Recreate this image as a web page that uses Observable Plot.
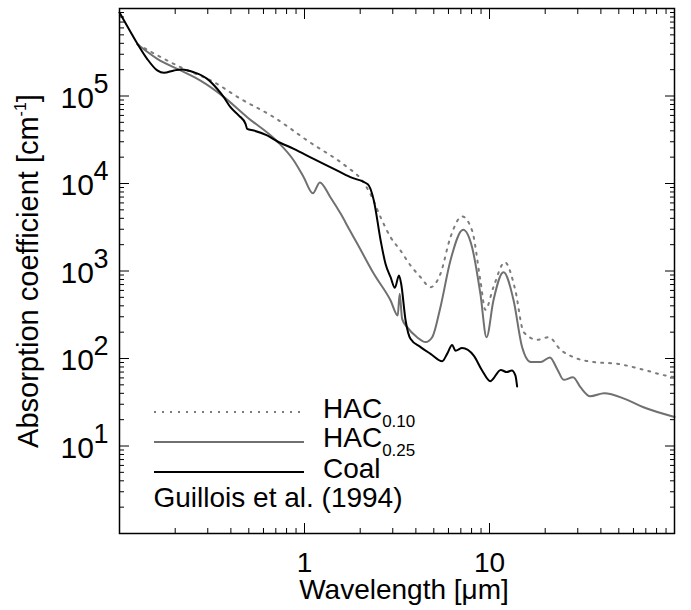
<!DOCTYPE html>
<html>
<head>
<meta charset="utf-8">
<script src="https://cdn.jsdelivr.net/npm/d3@7"></script>
<script src="https://cdn.jsdelivr.net/npm/@observablehq/plot@0.6"></script>
<style>
  body { margin: 0; background: #fff; }
  #chart svg { display: block; }
</style>
</head>
<body>
<div id="chart"></div>
<script>
/*
 * Absorption coefficient of hydrogenated amorphous carbon (two band gaps)
 * vs. coal (Guillois et al. 1994), log-log, IDL-style boxed frame with
 * inward ticks on all four sides.
 */

// HAC with E_g = 0.10 eV (dotted)
const hac10Wavelength = [0.125, 0.214, 0.324, 0.451, 0.682, 1.035, 1.7, 2.0, 2.27, 2.58, 2.92, 3.3, 3.74, 4.24, 4.8,
  5.43, 6.15, 7.11, 8.05, 8.93, 9.5, 10.5, 12.1, 13.8, 15.3, 18.1, 20.9, 24.2, 28.6, 36.6, 49, 65.5, 89, 100];
const hac10Absorption = [3.9e5, 2.13e5, 1.44e5, 9.3e4, 5.73e4, 3.1e4, 1.54e4, 1.15e4, 7.6e3, 4.1e3, 2430, 1720, 1160, 849, 653,
  929, 2430, 4200, 2900, 778, 360, 653, 1260, 598, 200, 164, 175, 126, 103, 91, 87, 76, 64, 61];

// HAC with E_g = 0.25 eV (grey)
const hac25Wavelength = [0.125, 0.16, 0.214, 0.274, 0.359, 0.49, 0.711, 0.875, 0.99, 1.11, 1.21, 1.38, 1.57, 1.76, 1.93,
  2.37, 2.92, 3.19, 3.27, 3.37, 3.59, 4.06, 4.51, 4.9, 5.43, 6.15, 7.2, 8.05, 8.93, 9.64, 10.5, 11.9, 13.5, 15.0,
  16.7, 18.9, 21.2, 23.2, 25.2, 28.3, 31, 35, 41.7, 53.8, 68, 100];
const hac25Absorption = [3.9e5, 2.66e5, 1.96e5, 1.5e5, 1.01e5, 5.73e4, 3.04e4, 1.83e4, 1.18e4, 7.74e3, 1.03e4, 6.97e3, 4.5e3, 2.9e3, 2.05e3,
  929, 460, 310, 548, 284, 228, 175, 154, 175, 386, 1320, 2960, 1870, 548, 175, 460, 969, 460, 135,
  91, 91, 103, 76, 57, 61, 47, 37, 40, 34.6, 27.7, 21.5];

// Coal, Guillois et al. (1994)
const coalWavelength = [0.1, 0.11, 0.125, 0.141, 0.16, 0.174, 0.197, 0.218, 0.252, 0.298, 0.337, 0.366, 0.398, 0.442,
  0.48, 0.49, 0.532, 0.628, 0.711, 0.875, 1.12, 1.44, 1.77, 2.2, 2.37, 2.58, 2.74, 2.92, 3.08, 3.24, 3.33, 3.52,
  3.74, 4.24, 4.8, 5.55, 5.9, 6.28, 6.55, 7.11, 8.22, 9.12, 10.1, 11.5, 12.4, 13.2, 13.8, 14.1];
const coalAbsorption = [9.0e5, 6.3e5, 3.95e5, 2.66e5, 1.96e5, 1.84e5, 1.96e5, 2.01e5, 1.87e5, 1.57e5, 1.21e5, 9.7e4, 7.45e4, 5.98e4,
  4.81e4, 4.2e4, 4.03e4, 3.54e4, 3.04e4, 2.49e4, 1.91e4, 1.47e4, 1.18e4, 9.8e3, 6.4e3, 2.23e3, 1.21e3, 849, 643, 889, 714, 272,
  168, 135, 113, 93, 113, 143, 123, 132, 108, 73, 55, 74, 70, 73, 64, 48];

const yLabelExponents = [1, 2, 3, 4, 5];
const xLabelValues = [1, 10];
const legendLabels = ["HAC_{0.10}", "HAC_{0.25}", "Coal"];
const sourceNote = "Guillois et al. (1994)";

const GREY = "#707070";
const DOT_GREY = "#7c7c7c";
const FONT = "'Liberation Sans', Arial, Helvetica, sans-serif";

function toRows(wl, k) {
  return wl.map((w, i) => ({ wl: w, k: k[i] }));
}

// turns "^{..}" / "_{..}" markup into raised / lowered tspans
function richText(root) {
  const SUP = { size: 16, shift: -12 };
  const SUB = { size: 17, shift: 9 };
  d3.select(root).selectAll("text").each(function () {
    const raw = this.textContent;
    if (!/[\^_]\{/.test(raw)) return;
    const el = d3.select(this).text("");
    let shift = 0;
    for (const part of raw.split(/([\^_]\{[^}]*\})/).filter(Boolean)) {
      const m = part.match(/^([\^_])\{([^}]*)\}$/);
      if (m) {
        const s = m[1] === "^" ? SUP : SUB;
        el.append("tspan").attr("dy", s.shift - shift).attr("font-size", s.size).text(m[2]);
        shift = s.shift;
      } else {
        el.append("tspan").attr("dy", -shift).text(part);
        shift = 0;
      }
    }
  });
}

const xTicks = d3.scaleLog().domain([0.1, 100]).ticks();
const yTicks = d3.scaleLog().domain([1, 1e6]).ticks();
const isDecade = (v) => Math.abs(Math.log10(v) - Math.round(Math.log10(v))) < 1e-9;
const xMajor = xTicks.filter(isDecade), xMinor = xTicks.filter((v) => !isDecade(v));
const yMajor = yTicks.filter(isDecade), yMinor = yTicks.filter((v) => !isDecade(v));

const tickMarks = [];
for (const anchor of ["bottom", "top"]) {
  tickMarks.push(Plot.axisX(xMajor, { anchor, tickSize: -10, fill: "none", label: null }));
  tickMarks.push(Plot.axisX(xMinor, { anchor, tickSize: -5, fill: "none", label: null }));
}
for (const anchor of ["left", "right"]) {
  tickMarks.push(Plot.axisY(yMajor, { anchor, tickSize: -10, fill: "none", label: null }));
  tickMarks.push(Plot.axisY(yMinor, { anchor, tickSize: -5, fill: "none", label: null }));
}

const plot = Plot.plot({
  width: 691,
  height: 610,
  marginLeft: 119,
  marginRight: 17,
  marginTop: 8,
  marginBottom: 77,
  style: { fontFamily: FONT, background: "white", color: "black" },
  x: { type: "log", domain: [0.1, 100] },
  y: { type: "log", domain: [1, 1e6] },
  marks: [
    ...tickMarks,
    Plot.line(toRows(hac10Wavelength, hac10Absorption), {
      x: "wl", y: "k", stroke: DOT_GREY, strokeWidth: 2, strokeDasharray: "2 6", curve: "monotone-x",
    }),
    Plot.line(toRows(hac25Wavelength, hac25Absorption), {
      x: "wl", y: "k", stroke: GREY, strokeWidth: 2, curve: "monotone-x",
    }),
    Plot.line(toRows(coalWavelength, coalAbsorption), {
      x: "wl", y: "k", stroke: "black", strokeWidth: 2, curve: "monotone-x",
    }),
    Plot.frame({ stroke: "black", strokeWidth: 1.5 }),
    // y tick labels: "10" plus a raised exponent
    Plot.text(yLabelExponents, {
      y: (d) => 10 ** d, frameAnchor: "left", text: () => "10",
      textAnchor: "start", lineAnchor: "middle", dx: -59, dy: 2, fontSize: 30,
    }),
    Plot.text(yLabelExponents, {
      y: (d) => 10 ** d, frameAnchor: "left", text: (d) => String(d),
      textAnchor: "start", lineAnchor: "middle", dx: -26, dy: -12, fontSize: 27,
    }),
    Plot.text(xLabelValues, {
      x: (d) => d, frameAnchor: "bottom", text: (d) => String(d),
      textAnchor: "middle", lineAnchor: "middle", dy: 30, fontSize: 28,
    }),
    Plot.text(["Wavelength [μm]"], {
      text: (d) => d, frameAnchor: "bottom", textAnchor: "middle", lineAnchor: "middle",
      dx: 7, dy: 57, fontSize: 28,
    }),
    Plot.text(["Absorption coefficient [cm^{-1}]"], {
      text: (d) => d, frameAnchor: "left", rotate: -90, textAnchor: "middle", lineAnchor: "middle",
      dx: -90.5, fontSize: 29,
    }),
  ],
});

// legend inside the frame, lower left
const legend = d3.select(plot).append("g")
  .attr("font-family", FONT).attr("font-size", 28).attr("text-anchor", "start").attr("fill", "black");
const legendStyles = [
  { stroke: DOT_GREY, dash: "2 6" },
  { stroke: GREY, dash: null },
  { stroke: "black", dash: null },
];
const lineY = [412, 442, 472];
const textY = [418, 447, 478];
legendLabels.forEach((label, i) => {
  legend.append("line")
    .attr("x1", 154).attr("x2", 304).attr("y1", lineY[i]).attr("y2", lineY[i])
    .attr("stroke", legendStyles[i].stroke).attr("stroke-width", 2)
    .attr("stroke-dasharray", legendStyles[i].dash);
  legend.append("text").attr("x", 323).attr("y", textY[i]).text(label);
});
legend.append("text").attr("x", 153.5).attr("y", 507).text(sourceNote);

richText(plot);
document.getElementById("chart").appendChild(plot);
</script>
</body>
</html>
